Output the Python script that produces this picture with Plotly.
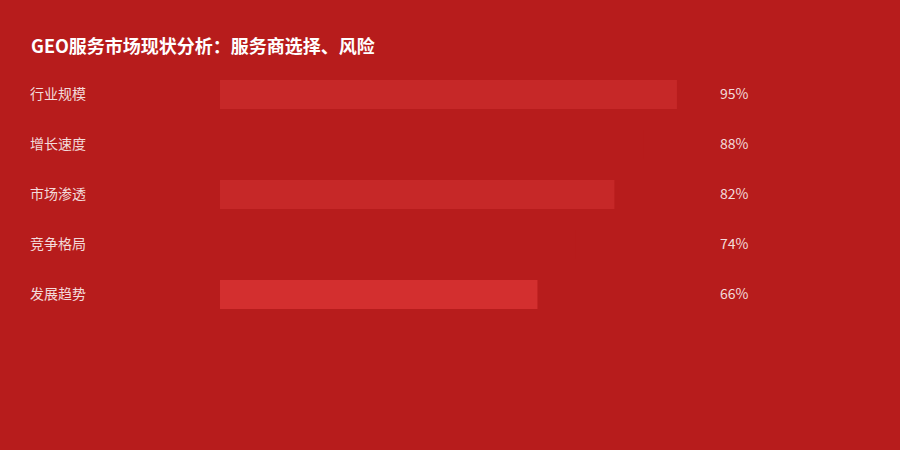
import plotly.graph_objects as go

TITLE = "GEO服务市场现状分析：服务商选择、风险"
categories = ["行业规模", "增长速度", "市场渗透", "竞争格局", "发展趋势"]
values = [95, 88, 82, 74, 66]
bar_colors = ["#C62828", "#B71C1C", "#C62828", "#B71C1C", "#D32F2F"]

BG = "#B71C1C"
FONT = "Noto Sans CJK SC, Noto Sans, sans-serif"
W, H = 900, 450

positions = list(range(len(categories)))

fig = go.Figure()
fig.add_trace(go.Bar(
    x=values,
    y=positions,
    orientation="h",
    width=0.58,
    marker=dict(color=bar_colors, line=dict(width=0)),
    hoverinfo="x",
    showlegend=False,
))

# title sits ~45px from the top of the canvas
annotations = [
    dict(text=f"<b>{TITLE}</b>", x=30 / W, y=1 - 45 / H, xref="paper", yref="paper",
         xanchor="left", yanchor="middle", showarrow=False, borderpad=0,
         font=dict(size=18, color="white", family=FONT)),
]
for pos, cat, val in zip(positions, categories, values):
    annotations.append(dict(
        text=cat, x=29 / W, y=pos, xref="paper", yref="y", yshift=2,
        xanchor="left", yanchor="middle", showarrow=False, borderpad=0,
        font=dict(size=14, color="rgba(255,255,255,0.85)", family=FONT)))
    annotations.append(dict(
        text=f"{val}%", x=719 / W, y=pos, xref="paper", yref="y", yshift=2,
        xanchor="left", yanchor="middle", showarrow=False, borderpad=0,
        font=dict(size=14, color="rgba(255,255,255,0.85)", family=FONT)))

fig.update_layout(
    width=W, height=H,
    paper_bgcolor=BG, plot_bgcolor=BG,
    margin=dict(l=0, r=0, t=0, b=0),
    xaxis=dict(domain=[220 / W, 701 / W], range=[0, 100], visible=False, fixedrange=True),
    yaxis=dict(domain=[0, 1], range=[(H - 94.5) / 50, -94.5 / 50], visible=False, fixedrange=True),
    annotations=annotations,
    font=dict(family=FONT),
)

fig.write_html(
    "out.html",
    config={"displayModeBar": False},
    post_script="document.body.style.margin='0';document.body.style.background='%s';" % BG,
)
